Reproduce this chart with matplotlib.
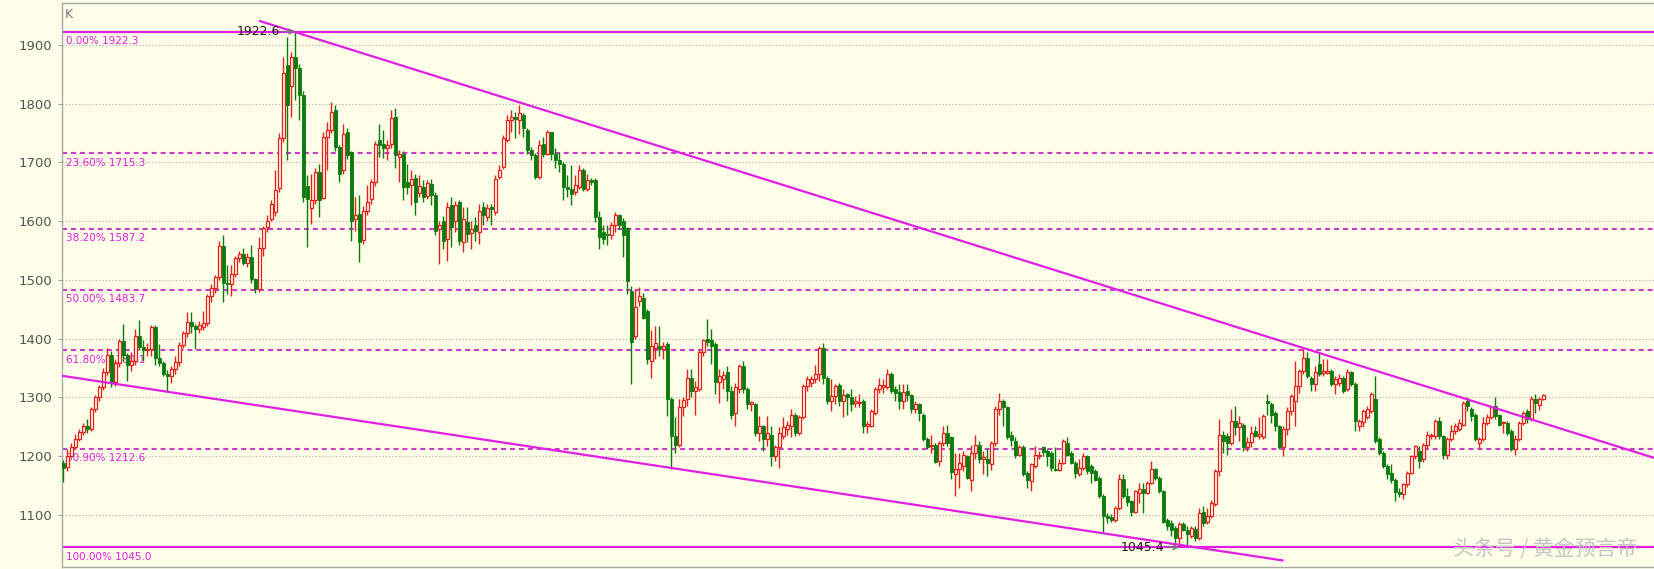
import numpy as np
import matplotlib
matplotlib.use("Agg")
import matplotlib.pyplot as plt

# weekly candles
opens = [1188,1182,1200,1216,1229,1241,1252,1246,1280,1300,
         1318,1343,1372,1326,1358,1396,1372,1355,1362,1405,
         1386,1380,1382,1420,1368,1359,1340,1337,1349,1361,
         1389,1409,1428,1421,1416,1420,1426,1473,1487,1505,
         1557,1495,1493,1510,1537,1544,1529,1539,1501,1484,
         1555,1590,1603,1615,1656,1741,1865,1830,1880,1860,
         1815,1660,1622,1636,1684,1640,1744,1755,1789,1727,
         1687,1752,1718,1604,1613,1568,1618,1638,1667,1738,
         1732,1725,1732,1778,1710,1715,1667,1661,1673,1648,
         1658,1642,1664,1644,1586,1600,1570,1627,1601,1633,
         1564,1599,1580,1593,1581,1624,1607,1624,1616,1675,
         1692,1738,1772,1777,1772,1781,1755,1721,1713,1675,
         1732,1715,1751,1715,1704,1698,1658,1655,1650,1658,
         1687,1655,1670,1670,1607,1581,1579,1576,1593,1610,
         1600,1588,1482,1405,1465,1470,1448,1362,1385,1388,
         1382,1391,1297,1235,1220,1283,1297,1334,1311,1314,
         1377,1400,1397,1391,1326,1332,1344,1311,1274,1314,
         1354,1314,1289,1289,1240,1251,1229,1237,1200,1215,
         1235,1247,1252,1270,1240,1266,1320,1325,1331,1340,
         1385,1334,1294,1303,1321,1294,1306,1300,1291,1291,
         1294,1252,1252,1274,1315,1317,1317,1340,1314,1310,
         1294,1311,1304,1281,1289,1271,1229,1217,1220,1192,
         1223,1240,1232,1169,1178,1184,1200,1160,1206,1220,
         1195,1195,1186,1223,1280,1294,1283,1236,1226,1203,
         1215,1172,1158,1183,1200,1215,1209,1206,1179,1176,
         1189,1223,1206,1189,1169,1180,1200,1183,1175,1163,
         1132,1099,1097,1092,1112,1161,1132,1124,1106,1138,
         1145,1138,1155,1178,1163,1141,1092,1087,1078,1061,
         1085,1074,1064,1076,1061,1106,1088,1098,1118,1175,
         1237,1234,1223,1260,1249,1254,1215,1224,1243,1234,
         1232,1294,1289,1273,1251,1215,1246,1277,1294,1320,
         1345,1368,1334,1323,1357,1341,1342,1345,1323,1325,
         1334,1314,1343,1323,1251,1258,1266,1277,1297,1229,
         1206,1183,1172,1160,1139,1136,1152,1172,1200,1209,
         1195,1220,1234,1234,1260,1234,1203,1229,1243,1246,
         1254,1294,1280,1271,1223,1229,1257,1266,1286,1270,
         1256,1257,1243,1212,1229,1256,1277,1263,1297,1288,1297]
highs = [1193,1213,1222,1238,1247,1256,1264,1284,1305,1322,
         1350,1385,1379,1365,1400,1425,1375,1378,1416,1431,
         1397,1393,1424,1424,1391,1362,1346,1353,1370,1395,
         1413,1445,1445,1425,1430,1447,1476,1493,1509,1566,
         1576,1525,1525,1541,1550,1555,1545,1559,1504,1573,
         1592,1610,1636,1687,1750,1880,1914,1887,1922.6,1868,
         1822,1678,1681,1690,1698,1752,1769,1803,1797,1730,
         1766,1758,1720,1641,1644,1625,1661,1672,1737,1766,
         1755,1738,1789,1792,1721,1720,1698,1687,1681,1678,
         1670,1670,1672,1650,1600,1608,1633,1641,1635,1636,
         1624,1624,1601,1607,1630,1633,1630,1630,1678,1695,
         1746,1781,1789,1786,1798,1784,1758,1727,1716,1738,
         1744,1755,1752,1724,1718,1700,1678,1695,1678,1695,
         1690,1681,1673,1673,1618,1593,1593,1599,1616,1613,
         1605,1590,1490,1485,1488,1478,1450,1414,1422,1422,
         1394,1394,1300,1266,1297,1300,1348,1348,1328,1380,
         1400,1433,1416,1394,1348,1345,1354,1320,1325,1357,
         1362,1317,1294,1291,1269,1254,1269,1251,1220,1249,
         1266,1260,1280,1274,1271,1323,1336,1337,1355,1388,
         1393,1337,1331,1323,1325,1314,1308,1314,1303,1306,
         1297,1260,1280,1317,1334,1331,1348,1343,1320,1323,
         1323,1323,1306,1294,1291,1274,1232,1237,1223,1226,
         1252,1254,1235,1206,1206,1209,1203,1220,1237,1226,
         1209,1212,1226,1286,1307,1297,1286,1243,1232,1220,
         1220,1175,1189,1217,1209,1217,1212,1209,1215,1195,
         1229,1232,1209,1192,1195,1206,1203,1186,1178,1166,
         1135,1104,1101,1115,1169,1169,1146,1126,1143,1155,
         1155,1158,1192,1180,1166,1143,1095,1092,1081,1089,
         1089,1081,1081,1081,1112,1115,1112,1126,1178,1263,
         1243,1240,1280,1286,1269,1257,1232,1252,1252,1266,
         1272,1306,1292,1277,1254,1251,1283,1306,1362,1348,
         1382,1377,1337,1354,1377,1365,1365,1348,1337,1340,
         1337,1348,1345,1326,1263,1280,1286,1309,1337,1232,
         1209,1186,1186,1163,1146,1155,1175,1203,1220,1217,
         1223,1243,1240,1263,1266,1237,1232,1254,1257,1263,
         1294,1300,1283,1274,1232,1266,1272,1286,1300,1272,
         1260,1260,1246,1237,1260,1277,1280,1302,1306,1300,1306]
lows = [1156,1175,1198,1212,1226,1237,1240,1243,1275,1294,
        1312,1338,1317,1320,1352,1362,1328,1345,1355,1380,
        1362,1370,1370,1356,1354,1336,1311,1325,1340,1354,
        1385,1403,1410,1382,1410,1415,1422,1462,1478,1500,
        1462,1476,1472,1505,1530,1525,1522,1495,1478,1480,
        1540,1581,1600,1608,1650,1735,1704,1778,1806,1772,
        1633,1556,1596,1630,1607,1637,1687,1750,1720,1667,
        1680,1705,1567,1584,1530,1562,1610,1630,1660,1709,
        1707,1704,1725,1690,1667,1636,1647,1627,1610,1641,
        1633,1638,1627,1576,1527,1553,1533,1556,1581,1560,
        1547,1565,1553,1567,1562,1593,1601,1593,1611,1672,
        1689,1735,1752,1741,1749,1744,1715,1704,1672,1672,
        1709,1712,1704,1690,1684,1636,1641,1627,1644,1655,
        1652,1652,1661,1598,1553,1561,1559,1570,1581,1587,
        1539,1476,1323,1400,1456,1433,1357,1334,1365,1371,
        1365,1269,1178,1206,1215,1269,1286,1300,1271,1311,
        1371,1388,1357,1306,1291,1314,1294,1263,1251,1308,
        1308,1280,1277,1235,1226,1209,1217,1183,1192,1180,
        1229,1237,1232,1235,1237,1263,1311,1317,1325,1328,
        1323,1289,1277,1289,1286,1266,1271,1277,1283,1283,
        1240,1240,1249,1271,1308,1308,1314,1308,1294,1280,
        1280,1294,1274,1274,1260,1226,1212,1206,1189,1183,
        1217,1217,1161,1132,1146,1175,1161,1141,1195,1189,
        1169,1166,1177,1217,1271,1252,1229,1217,1197,1200,
        1166,1146,1141,1180,1195,1200,1183,1175,1175,1175,
        1186,1200,1186,1163,1166,1177,1169,1155,1158,1129,
        1070,1087,1089,1089,1109,1129,1115,1098,1104,1121,
        1104,1135,1152,1160,1138,1087,1075,1064,1052,1045.4,
        1072,1047,1061,1055,1058,1081,1084,1095,1115,1166,
        1206,1203,1220,1237,1226,1209,1209,1215,1232,1229,
        1229,1271,1257,1243,1212,1200,1237,1271,1252,1308,
        1340,1334,1311,1311,1337,1337,1340,1320,1306,1320,
        1308,1311,1320,1243,1243,1249,1263,1274,1223,1203,
        1180,1161,1155,1124,1130,1128,1148,1169,1195,1180,
        1190,1214,1229,1229,1229,1195,1195,1226,1238,1243,
        1251,1277,1260,1226,1214,1226,1254,1263,1263,1251,
        1240,1237,1209,1203,1226,1254,1257,1260,1274,1279,1296]
closes = [1180,1200,1216,1229,1241,1252,1246,1280,1300,1318,
          1343,1372,1326,1358,1396,1372,1355,1362,1405,1386,
          1380,1383,1420,1368,1359,1340,1337,1349,1361,1389,
          1409,1428,1421,1416,1424,1426,1473,1487,1505,1557,
          1495,1493,1510,1537,1544,1529,1539,1501,1484,1555,
          1589,1601,1630,1653,1741,1852,1798,1880,1860,1815,
          1641,1638,1636,1684,1636,1744,1755,1786,1727,1681,
          1749,1712,1601,1610,1564,1618,1633,1667,1732,1729,
          1724,1729,1775,1712,1714,1658,1658,1671,1633,1660,
          1641,1665,1644,1584,1594,1567,1624,1590,1627,1566,
          1604,1579,1587,1583,1618,1610,1623,1620,1672,1687,
          1741,1772,1778,1774,1784,1758,1721,1712,1675,1729,
          1715,1752,1715,1704,1698,1658,1655,1647,1661,1687,
          1655,1670,1667,1607,1573,1570,1576,1593,1610,1593,
          1576,1499,1394,1454,1473,1436,1365,1388,1393,1383,
          1387,1297,1235,1220,1283,1296,1334,1311,1317,1377,
          1397,1394,1388,1326,1336,1338,1311,1271,1317,1354,
          1314,1289,1293,1240,1251,1229,1240,1200,1215,1240,
          1249,1254,1270,1240,1266,1320,1331,1331,1340,1385,
          1334,1294,1303,1320,1294,1304,1300,1289,1294,1292,
          1252,1255,1277,1315,1321,1321,1340,1311,1308,1294,
          1310,1304,1280,1289,1274,1229,1215,1220,1190,1223,
          1239,1223,1173,1179,1189,1203,1163,1206,1220,1195,
          1198,1188,1223,1280,1294,1283,1232,1228,1203,1215,
          1169,1160,1186,1203,1203,1207,1200,1180,1177,1188,
          1226,1203,1189,1172,1180,1200,1175,1172,1160,1132,
          1098,1095,1092,1112,1161,1132,1122,1106,1141,1145,
          1138,1155,1178,1163,1141,1089,1081,1075,1061,1085,
          1075,1067,1078,1061,1104,1087,1099,1121,1175,1237,
          1226,1223,1260,1249,1256,1215,1224,1240,1234,1238,
          1269,1290,1271,1251,1215,1247,1277,1302,1320,1345,
          1368,1337,1323,1343,1340,1345,1345,1323,1331,1334,
          1311,1343,1323,1260,1260,1277,1280,1306,1226,1206,
          1183,1169,1160,1139,1136,1152,1172,1200,1217,1192,
          1220,1237,1237,1260,1234,1203,1229,1243,1252,1256,
          1291,1286,1269,1229,1229,1257,1266,1283,1269,1254,
          1258,1240,1212,1229,1256,1274,1263,1297,1291,1297,1304]

fib_pct = ["0.00%", "23.60%", "38.20%", "50.00%", "61.80%", "80.90%", "100.00%"]
fib_levels = [1922.3, 1715.3, 1587.2, 1483.7, 1380.1, 1212.6, 1045.0]

# trend lines drawn on the chart (candle index, price)
upper_x = [48.9, 397.7]
upper_y = [1941.0, 1197.3]
lower_x = [-0.4, 305.1]
lower_y = [1337.0, 1022.5]

peak_idx, peak_val = 58, 1922.6
low_idx, low_val = 279, 1045.4
ytick_vals = [1100, 1200, 1300, 1400, 1500, 1600, 1700, 1800, 1900]

BG = "#fffee8"
RED = "#e3201c"
GREEN = "#0b7a0b"
MAGENTA = "#e21ee2"
DASHC = "#c83cc8"

W, H = 1654, 569
fig = plt.figure(figsize=(W / 100, H / 100), dpi=100, facecolor=BG)
ax = fig.add_axes([61.7 / W, 2.3 / H, 1 - 61.7 / W, 563.7 / H])
ax.set_facecolor(BG)

o = np.array(opens, float)
h = np.array(highs, float)
l = np.array(lows, float)
c = np.array(closes, float)
idx = np.arange(len(c))
up = c >= o

# grid
for v in ytick_vals:
    ax.axhline(v, color="#a8a8a8", lw=0.8, ls=(0, (1, 2)), zorder=1)

# fibonacci levels
for k, (p, v) in enumerate(zip(fib_pct, fib_levels)):
    if k == 0 or k == len(fib_levels) - 1:
        ax.axhline(v, color=MAGENTA, lw=1.6, zorder=2)
    else:
        ax.axhline(v, color=DASHC, lw=1.5, ls=(0, (2.4, 1.9)), zorder=2)
    ax.annotate(f"{p} {v:.1f}", xy=(0, v), xycoords=("axes fraction", "data"),
                xytext=(3, -3), textcoords="offset points", ha="left", va="top",
                fontsize=7.5, color=MAGENTA, zorder=2)

# candles
ax.vlines(idx, l, h, colors=np.where(up, RED, GREEN), lw=1.0, zorder=3)
body = np.maximum(np.abs(c - o), 1.0)
bottom = np.minimum(o, c)
ax.bar(idx[up], body[up], bottom=bottom[up], width=0.74, facecolor=BG,
       edgecolor=RED, linewidth=0.9, zorder=4)
ax.bar(idx[~up], body[~up], bottom=bottom[~up], width=0.74, facecolor=GREEN,
       edgecolor=GREEN, linewidth=0.6, zorder=4)

# trend lines
ax.plot(upper_x, upper_y, color=MAGENTA, lw=1.6, zorder=5, solid_capstyle="butt")
ax.plot(lower_x, lower_y, color=MAGENTA, lw=1.6, zorder=5, solid_capstyle="butt")

# high / low marks
for i, v in [(peak_idx, peak_val), (low_idx, low_val)]:
    ax.annotate(f"{v:.1f}", xy=(i, v), xytext=(-11, 0), textcoords="offset points",
                ha="right", va="center", fontsize=9, color="#1a1a1a", zorder=6,
                arrowprops=dict(arrowstyle="->", color="#777777", lw=0.9,
                                shrinkA=0, shrinkB=0))

ax.set_xlim(-0.4, 397.7)
ax.set_ylim(1012.1, 1971.2)
ax.set_xticks([])
ax.set_yticks(ytick_vals)
ax.tick_params(axis="y", length=3, width=0.8, color="#a0a0a0", pad=4,
               labelsize=9.5, labelcolor="#555555")
for s in ["left", "top", "bottom"]:
    ax.spines[s].set_color("#a8a8a8")
    ax.spines[s].set_linewidth(1.0)
ax.spines["right"].set_visible(False)

fig.text(65 / W, 1 - 15 / H, "K", fontsize=9, color="#777777", ha="left", va="center")
fig.text(1545 / W, 1 - 549 / H, "头条号 / 黄金预言帝", fontsize=15, color="#c4c4c4",
         ha="center", va="center", family=["Noto Sans CJK SC", "DejaVu Sans"])

fig.savefig("out.png", dpi=100, facecolor=BG)
